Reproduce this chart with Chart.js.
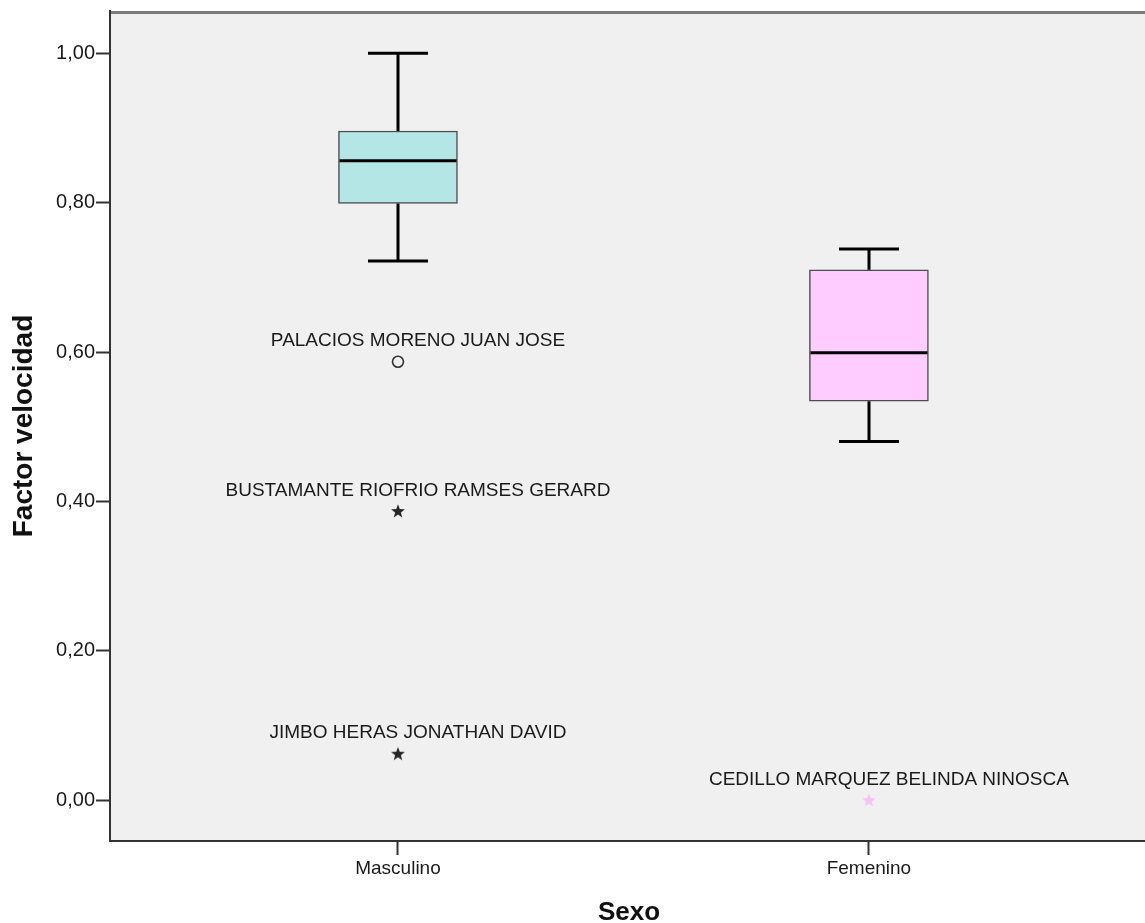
<!DOCTYPE html>
<html>
<head>
<meta charset="utf-8">
<title>Factor velocidad por sexo</title>
<script src="https://cdn.jsdelivr.net/npm/chart.js@4.4.1/dist/chart.umd.min.js"></script>
<style>
  html, body { margin: 0; padding: 0; background: #ffffff; overflow: hidden; }
  canvas { display: block; }
</style>
</head>
<body>
<canvas id="chart" width="1155" height="923"></canvas>
<script>
// Five-number summary per group
const categories  = ['Masculino', 'Femenino'];
const whiskerLow  = [0.722, 0.480];
const quartile1   = [0.799, 0.534];
const medians     = [0.856, 0.599];
const quartile3   = [0.896, 0.710];
const whiskerHigh = [1.000, 0.738];

// Cases outside the whiskers (group index, value, marker kind, case label)
const outlierGroup = [0, 0, 0, 1];
const outlierValue = [0.587, 0.387, 0.062, 0.000];
const outlierKind  = ['circle', 'star', 'star', 'star'];
const outlierName  = [
  'PALACIOS MORENO JUAN JOSE',
  'BUSTAMANTE RIOFRIO RAMSES GERARD',
  'JIMBO HERAS JONATHAN DAVID',
  'CEDILLO MARQUEZ BELINDA NINOSCA'
];

// Value axis ticks
const yTickValues = [0, 0.2, 0.4, 0.6, 0.8, 1.0];
const yTickLabels = ['0,00', '0,20', '0,40', '0,60', '0,80', '1,00'];

// Styling
const FONT = 'Liberation Sans, Arial, Helvetica, sans-serif';
const boxFill = ['#b4e6e6', '#ffccff'];
const markerColor = ['#262626', '#f6c2f6'];
const BOX_WIDTH = 119;
const CAP_HALF = 30;

// Filled five-pointed star used for extreme values
function makeStar(color) {
  const s = document.createElement('canvas');
  s.width = 16; s.height = 16;
  const g = s.getContext('2d');
  g.fillStyle = color;
  g.beginPath();
  for (let i = 0; i < 10; i++) {
    const r = i % 2 ? 3 : 7.3;
    const a = -Math.PI / 2 + i * Math.PI / 5;
    const px = 8 + r * Math.cos(a), py = 8.5 + r * Math.sin(a);
    if (i) g.lineTo(px, py); else g.moveTo(px, py);
  }
  g.closePath();
  g.fill();
  return s;
}

const outlierPoints = outlierValue.map((v, i) => ({ x: outlierGroup[i] + 1, y: v }));
const outlierStyles = outlierKind.map((k, i) =>
  k === 'circle' ? 'circle' : makeStar(markerColor[outlierGroup[i]]));

const boxPlotParts = {
  id: 'boxPlotParts',
  beforeDraw(chart) {
    const { ctx, chartArea: a } = chart;
    ctx.save();
    ctx.fillStyle = '#f0f0f0';
    ctx.fillRect(a.left, a.top, a.right - a.left, a.bottom - a.top);
    ctx.strokeStyle = '#7b7b7b';
    ctx.lineWidth = 3;
    ctx.beginPath();
    ctx.moveTo(a.left, a.top + 1.5);
    ctx.lineTo(a.right, a.top + 1.5);
    ctx.stroke();
    ctx.restore();
  },
  afterDatasetsDraw(chart) {
    const { ctx, scales: { x, y } } = chart;
    ctx.save();
    ctx.strokeStyle = '#000000';
    ctx.lineWidth = 3;
    ctx.lineCap = 'butt';
    categories.forEach((c, i) => {
      const cx = Math.round(x.getPixelForValue(i + 1));
      const yHi = y.getPixelForValue(whiskerHigh[i]);
      const yQ3 = y.getPixelForValue(quartile3[i]);
      const yQ1 = y.getPixelForValue(quartile1[i]);
      const yLo = y.getPixelForValue(whiskerLow[i]);
      const yMed = y.getPixelForValue(medians[i]);
      ctx.beginPath();
      // whiskers
      ctx.moveTo(cx, yQ3); ctx.lineTo(cx, yHi);
      ctx.moveTo(cx - CAP_HALF, yHi); ctx.lineTo(cx + CAP_HALF, yHi);
      ctx.moveTo(cx, yQ1); ctx.lineTo(cx, yLo);
      ctx.moveTo(cx - CAP_HALF, yLo); ctx.lineTo(cx + CAP_HALF, yLo);
      // median
      ctx.moveTo(cx - BOX_WIDTH / 2 + 1, yMed); ctx.lineTo(cx + BOX_WIDTH / 2 - 1, yMed);
      ctx.stroke();
    });
    // case labels above outlying points
    ctx.fillStyle = '#1a1a1a';
    ctx.font = '19px ' + FONT;
    ctx.textAlign = 'center';
    ctx.textBaseline = 'alphabetic';
    outlierName.forEach((name, i) => {
      const px = x.getPixelForValue(outlierGroup[i] + 1) + 20;
      const py = y.getPixelForValue(outlierValue[i]) - 15.5;
      ctx.fillText(name, px, py);
    });
    ctx.restore();
  }
};

new Chart(document.getElementById('chart'), {
  type: 'bar',
  data: {
    datasets: [
      {
        type: 'bar',
        data: categories.map((c, i) => ({ x: i + 1, y: [quartile1[i], quartile3[i]] })),
        backgroundColor: boxFill,
        borderColor: '#4d4d4d',
        borderWidth: 1.5,
        borderSkipped: false,
        barThickness: BOX_WIDTH,
        grouped: false
      },
      {
        type: 'scatter',
        data: outlierPoints,
        pointStyle: outlierStyles,
        pointRadius: 5.5,
        borderWidth: 1.6,
        borderColor: '#333333',
        backgroundColor: 'rgba(0,0,0,0)'
      }
    ]
  },
  options: {
    responsive: false,
    animation: false,
    events: [],
    devicePixelRatio: 1,
    layout: { padding: { top: 11, left: 0, right: 0, bottom: 0 } },
    plugins: { legend: { display: false }, tooltip: { enabled: false } },
    scales: {
      x: {
        type: 'linear',
        min: 0.38854,
        max: 2.59236,
        offset: false,
        afterBuildTicks: s => { s.ticks = categories.map((c, i) => ({ value: i + 1 })); },
        afterFit: s => { s.height = 82; s.paddingLeft = 0; s.paddingRight = 0; },
        grid: { display: true, offset: false, drawOnChartArea: false, drawTicks: true, tickLength: 14, tickWidth: 2, tickColor: '#333333' },
        border: { display: true, color: '#333333', width: 2 },
        ticks: {
          autoSkip: false, maxRotation: 0, padding: 2, color: '#1a1a1a',
          font: { family: FONT, size: 19 },
          callback: (v, i) => categories[i]
        },
        title: {
          display: true, text: 'Sexo', color: '#111111', padding: 0,
          font: { family: FONT, size: 26, weight: 'bold', lineHeight: 0.75 }
        }
      },
      y: {
        type: 'linear',
        min: -0.05491,
        max: 1.0567,
        afterBuildTicks: s => { s.ticks = yTickValues.map(v => ({ value: v })); },
        afterFit: s => { s.width = 110; s.paddingTop = 0; s.paddingBottom = 0; },
        grid: { display: true, drawOnChartArea: false, drawTicks: true, tickLength: 14, tickWidth: 2, tickColor: '#333333' },
        border: { display: true, color: '#333333', width: 2 },
        ticks: {
          padding: 1, color: '#1a1a1a',
          font: { family: FONT, size: 20 },
          callback: (v, i) => yTickLabels[i]
        },
        title: {
          display: true, text: 'Factor velocidad', color: '#111111', padding: { top: 7, bottom: 0 },
          font: { family: FONT, size: 28, weight: 'bold' }
        }
      }
    }
  },
  plugins: [boxPlotParts]
});
</script>
</body>
</html>
